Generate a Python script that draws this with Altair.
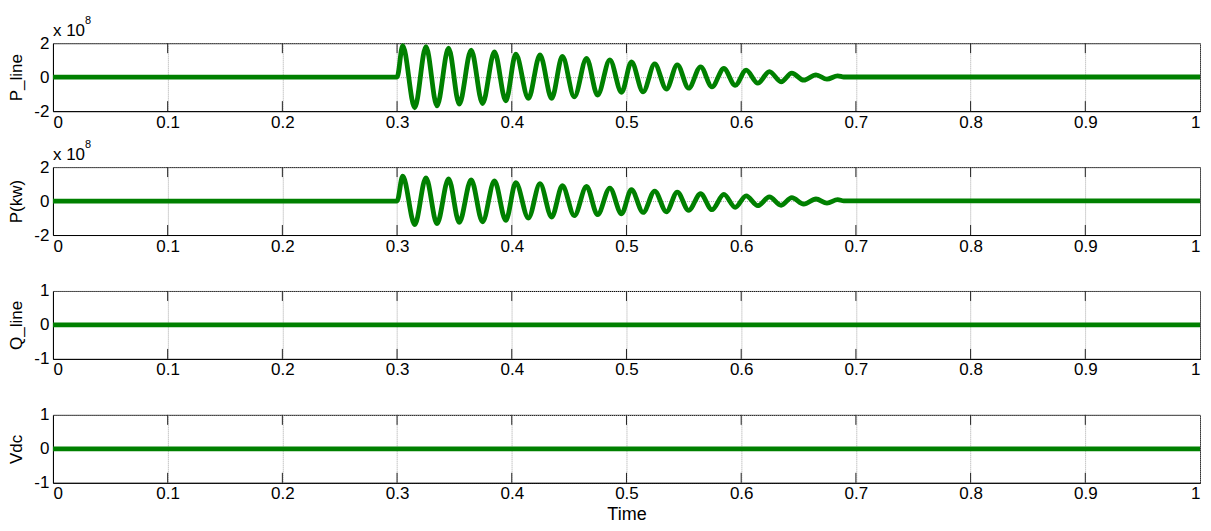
import altair as alt
import pandas as pd

# ---- data ----
x_ticks = [0, 0.1, 0.2, 0.3, 0.4, 0.5, 0.6, 0.7, 0.8, 0.9, 1]

# times of the flat start, the extrema of the oscillation and the flat end
osc_t = [0.0, 0.300,
         0.3049, 0.3154, 0.3252, 0.3348, 0.3449, 0.3542, 0.3646, 0.3745, 0.3849, 0.3948,
         0.4035, 0.4145, 0.4246, 0.4348, 0.4441, 0.4545, 0.4652, 0.4748, 0.4855, 0.4957,
         0.5043, 0.5145, 0.5246, 0.5348, 0.5443, 0.5542, 0.5646, 0.5745, 0.5849, 0.5948,
         0.6043, 0.6145, 0.6246, 0.6348, 0.6441, 0.6545, 0.6652, 0.6748, 0.6841,
         0.6895, 1.0]

# P_line (x 1e8)
p_line = [0, 0,
          1.85, -1.80, 1.80, -1.69, 1.71, -1.59, 1.59, -1.55, 1.49, -1.39,
          1.35, -1.25, 1.31, -1.25, 1.22, -1.16, 1.10, -1.06, 1.02, -0.90,
          0.90, -0.86, 0.78, -0.70, 0.72, -0.65, 0.61, -0.57, 0.51, -0.48,
          0.41, -0.35, 0.33, -0.27, 0.24, -0.18, 0.14, -0.12, 0.08,
          0.01, 0.01]

# P(kw) (x 1e8)
p_kw = [0, 0,
        1.47, -1.39, 1.37, -1.33, 1.31, -1.25, 1.25, -1.22, 1.18, -1.14,
        1.08, -1.00, 1.02, -0.94, 0.90, -0.86, 0.86, -0.80, 0.76, -0.75,
        0.67, -0.67, 0.59, -0.63, 0.53, -0.55, 0.43, -0.51, 0.39, -0.37,
        0.31, -0.27, 0.24, -0.25, 0.20, -0.18, 0.12, -0.12, 0.08,
        0.01, 0.01]

flat_t = [0.0, 1.0]
q_line = [0, 0]
vdc = [0, 0]

y_ticks_big = [-2, 0, 2]
y_ticks_small = [-1, 0, 1]
sci_base = "x 10"
sci_exp = "8"

W, H = 1148, 68
GREEN = "#008000"
FONT = "Liberation Sans"


def panel(t, v, ytitle, ydom, yticks, sci=False, last=False):
    df = pd.DataFrame({"t": t, "v": v})
    xaxis = alt.Axis(values=x_ticks, format="~g", grid=True, gridColor="#a8a8a8",
                     gridDash=[1, 1], ticks=False, labelPadding=3,
                     titlePadding=4, titleFontSize=18)
    if last:
        x = alt.X("t:Q", scale=alt.Scale(domain=[0, 1], nice=False, zero=False),
                  axis=xaxis, title="Time")
    else:
        x = alt.X("t:Q", scale=alt.Scale(domain=[0, 1], nice=False, zero=False),
                  axis=xaxis, title=None)
    y = alt.Y("v:Q", scale=alt.Scale(domain=ydom, nice=False),
              axis=alt.Axis(values=yticks, labelExpr="'' + datum.value", grid=True,
                            gridColor="#a8a8a8", gridDash=[1, 1], ticks=False,
                            labelPadding=4, titleX=-36, titleY=H / 2,
                            titleBaseline="middle", titleAlign="center"),
              title=ytitle)
    line = alt.Chart(df).mark_line(color=GREEN, strokeWidth=4.8,
                                   interpolate="monotone").encode(x=x, y=y)
    tdf = pd.DataFrame({"t": x_ticks[1:-1]})
    top_ticks = alt.Chart(tdf).mark_rule(color="#222", strokeWidth=1).encode(
        x="t:Q", y=alt.value(0), y2=alt.value(10))
    bot_ticks = alt.Chart(tdf).mark_rule(color="#222", strokeWidth=1).encode(
        x="t:Q", y=alt.value(H), y2=alt.value(H - 10))
    layers = [line, top_ticks, bot_ticks]
    if sci:
        base_txt = alt.Chart(pd.DataFrame({"s": [sci_base]})).mark_text(
            align="left", baseline="alphabetic", fontSize=17, font=FONT,
            color="black").encode(text="s:N", x=alt.value(0), y=alt.value(-7))
        exp_txt = alt.Chart(pd.DataFrame({"s": [sci_exp]})).mark_text(
            align="left", baseline="alphabetic", fontSize=11, font=FONT,
            color="black").encode(text="s:N", x=alt.value(32), y=alt.value(-19))
        layers += [base_txt, exp_txt]
    return alt.layer(*layers).properties(width=W, height=H)


p1 = panel(osc_t, p_line, "P_line", [-2, 2], y_ticks_big, sci=True)
p2 = panel(osc_t, p_kw, "P(kw)", [-2, 2], y_ticks_big, sci=True)
p3 = panel(flat_t, q_line, "Q_line", [-1, 1], y_ticks_small)
p4 = panel(flat_t, vdc, "Vdc", [-1, 1], y_ticks_small, last=True)

chart = alt.vconcat(p1, p2, p3, p4, spacing=56, bounds="flush").properties(
    padding={"left": 7, "top": 14, "right": 0, "bottom": 0},
    background="white",
).configure_view(
    stroke="black", strokeWidth=1
).configure_axis(
    labelFont=FONT, titleFont=FONT, labelFontSize=17, titleFontSize=17,
    titleFontWeight="normal", labelColor="black", titleColor="black",
    domainColor="black", domainWidth=1
)

chart.save("out.html", embed_options={"renderer": "svg", "actions": False})
